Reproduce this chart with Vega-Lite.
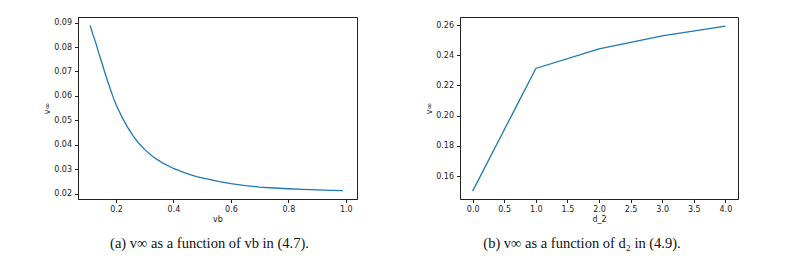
{
  "$schema": "https://vega.github.io/schema/vega-lite/v6.json",
  "padding": {"left": 43, "top": 16, "right": 5, "bottom": 5},
  "autosize": {"type": "pad"},
  "background": "white",
  "bounds": "flush",
  "spacing": 103,
  "config": {
    "view": {"stroke": "#222", "strokeWidth": 1},
    "axis": {
      "labelFont": "DejaVu Sans", "labelFontSize": 8, "labelColor": "#222",
      "titleFont": "DejaVu Sans", "titleFontSize": 8, "titleFontWeight": "normal", "titleColor": "#222",
      "grid": false, "tickColor": "#222", "domainColor": "#222", "tickSize": 3.5, "labelPadding": 3, "titlePadding": 2
    },
    "title": {"font": "Liberation Serif", "fontSize": 14.5, "fontWeight": "normal", "color": "#111", "orient": "bottom", "anchor": "middle"}
  },
  "hconcat": [
    {
      "width": 279,
      "height": 182,
      "title": {"text": "(a) v∞ as a function of vb in (4.7).", "offset": 13, "dx": -8},
      "data": {"values": [
        {"vb": 0.11, "v": 0.0888}, {"vb": 0.12, "v": 0.0850}, {"vb": 0.13, "v": 0.0815},
        {"vb": 0.14, "v": 0.0775}, {"vb": 0.15, "v": 0.0738}, {"vb": 0.16, "v": 0.0700},
        {"vb": 0.17, "v": 0.0663}, {"vb": 0.18, "v": 0.0628}, {"vb": 0.19, "v": 0.0595},
        {"vb": 0.20, "v": 0.0565}, {"vb": 0.22, "v": 0.0515}, {"vb": 0.24, "v": 0.0472},
        {"vb": 0.26, "v": 0.0435}, {"vb": 0.28, "v": 0.0405}, {"vb": 0.30, "v": 0.0380},
        {"vb": 0.33, "v": 0.0350}, {"vb": 0.36, "v": 0.0327}, {"vb": 0.40, "v": 0.0303},
        {"vb": 0.44, "v": 0.0285}, {"vb": 0.48, "v": 0.0270}, {"vb": 0.52, "v": 0.0259},
        {"vb": 0.56, "v": 0.0249}, {"vb": 0.60, "v": 0.0241}, {"vb": 0.65, "v": 0.0233},
        {"vb": 0.70, "v": 0.0227}, {"vb": 0.75, "v": 0.0223}, {"vb": 0.80, "v": 0.0220},
        {"vb": 0.85, "v": 0.0217}, {"vb": 0.90, "v": 0.0215}, {"vb": 0.95, "v": 0.0213},
        {"vb": 0.99, "v": 0.0212}
      ]},
      "mark": {"type": "line", "color": "#1f77b4", "strokeWidth": 1.3},
      "encoding": {
        "x": {"field": "vb", "type": "quantitative",
              "scale": {"domain": [0.0676, 1.039], "nice": false, "zero": false},
              "axis": {"values": [0.2, 0.4, 0.6, 0.8, 1.0], "format": ".1f", "title": "vb"}},
        "y": {"field": "v", "type": "quantitative",
              "scale": {"domain": [0.0178, 0.0923], "nice": false, "zero": false},
              "axis": {"values": [0.02, 0.03, 0.04, 0.05, 0.06, 0.07, 0.08, 0.09], "format": ".2f", "title": "v∞"}}
      }
    },
    {
      "width": 278,
      "height": 182,
      "title": {"text": "(b) v∞ as a function of d₂ in (4.9).", "offset": 13, "dx": -17},
      "data": {"values": [
        {"d2": 0, "v": 0.1500}, {"d2": 1, "v": 0.2312}, {"d2": 2, "v": 0.2442},
        {"d2": 3, "v": 0.2528}, {"d2": 4, "v": 0.2592}
      ]},
      "mark": {"type": "line", "color": "#1f77b4", "strokeWidth": 1.3},
      "encoding": {
        "x": {"field": "d2", "type": "quantitative",
              "scale": {"domain": [-0.2, 4.2], "nice": false, "zero": false},
              "axis": {"values": [0, 0.5, 1, 1.5, 2, 2.5, 3, 3.5, 4], "format": ".1f", "title": "d_2"}},
        "y": {"field": "v", "type": "quantitative",
              "scale": {"domain": [0.1448, 0.2653], "nice": false, "zero": false},
              "axis": {"values": [0.16, 0.18, 0.20, 0.22, 0.24, 0.26], "format": ".2f", "title": "v∞"}}
      }
    }
  ]
}
